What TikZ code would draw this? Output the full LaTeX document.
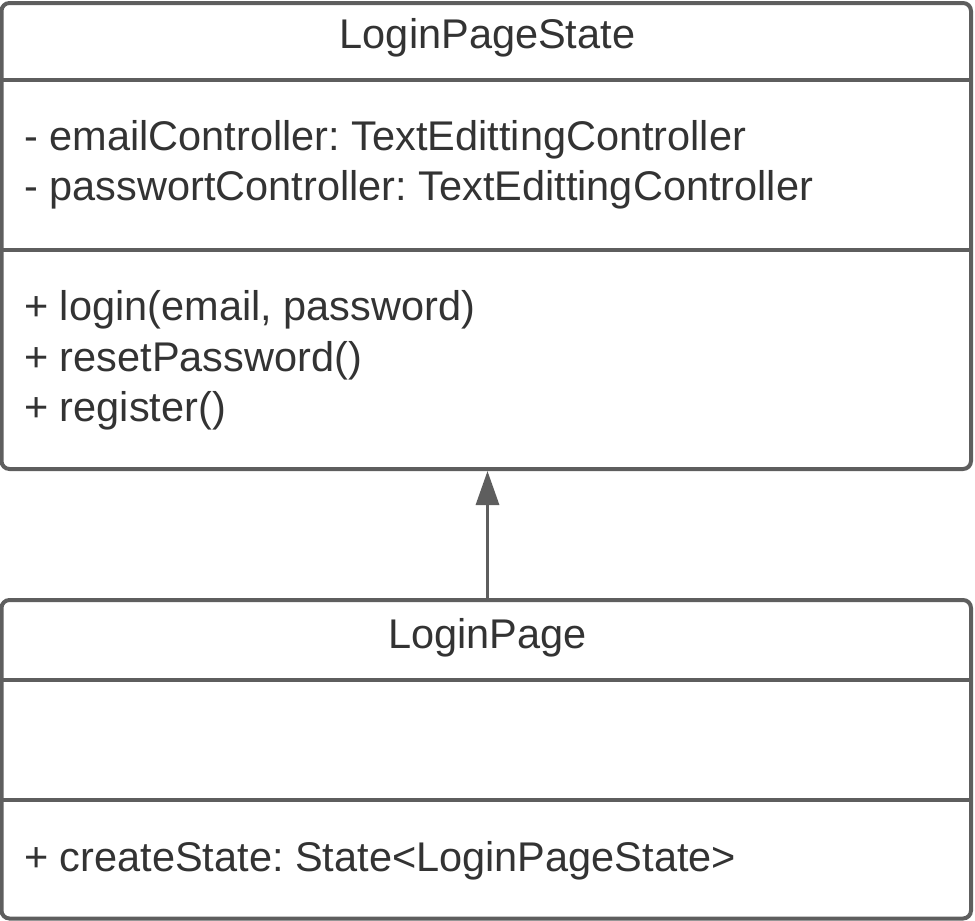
\documentclass[tikz,border=0pt]{standalone}
\usepackage{fontspec}
\setmainfont{Liberation Sans}
\usetikzlibrary{arrows.meta}
\definecolor{umlline}{HTML}{5E5E5E}
\definecolor{umltext}{HTML}{333333}
\frenchspacing
\begin{document}
\begin{tikzpicture}[x=1pt,y=-1pt,
  classbox/.style={draw=umlline,line width=4pt,rounded corners=8pt,fill=white},
  divider/.style={draw=umlline,line width=4pt},
  umllabel/.style={inner sep=0pt,text=umltext,font=\fontsize{41.5}{50}\selectfont},
  member/.style={umllabel,anchor=base west},
  classname/.style={umllabel,anchor=base},
  inherit/.style={draw=umlline,line width=3.2pt,-{Triangle[length=34pt,width=23pt]}}]
\useasboundingbox (0,0) rectangle (975,921);

% LoginPageState class
\draw[classbox] (1.5,3) rectangle (971,469);
\draw[divider] (1.5,79.5) -- (971,79.5);
\draw[divider] (1.5,250) -- (971,250);
\node[classname] (stateName) at (487.5,48.5) {LoginPageState};
\node[member] (attrEmail) at (24,150) {- emailController: TextEdittingController};
\node[member] (attrPass) at (24,200.5) {- passwortController: TextEdittingController};
\node[member] (opLogin) at (24,320.5) {+ login(email, password)};
\node[member] (opReset) at (24,371) {+ resetPassword()};
\node[member] (opRegister) at (24,421.5) {+ register()};
\coordinate (stateBottom) at (487.5,471);

% LoginPage class
\draw[classbox] (1.5,600) rectangle (971,918.5);
\draw[divider] (1.5,680) -- (971,680);
\draw[divider] (1.5,800) -- (971,800);
\node[classname] (pageName) at (487.5,648.5) {LoginPage};
\node[member] (opCreate) at (24,871.5) {+ createState: State<LoginPageState>};
\coordinate (pageTop) at (487.5,598);

% inheritance arrow
\draw[inherit] (pageTop) -- (stateBottom);
\end{tikzpicture}
\end{document}
